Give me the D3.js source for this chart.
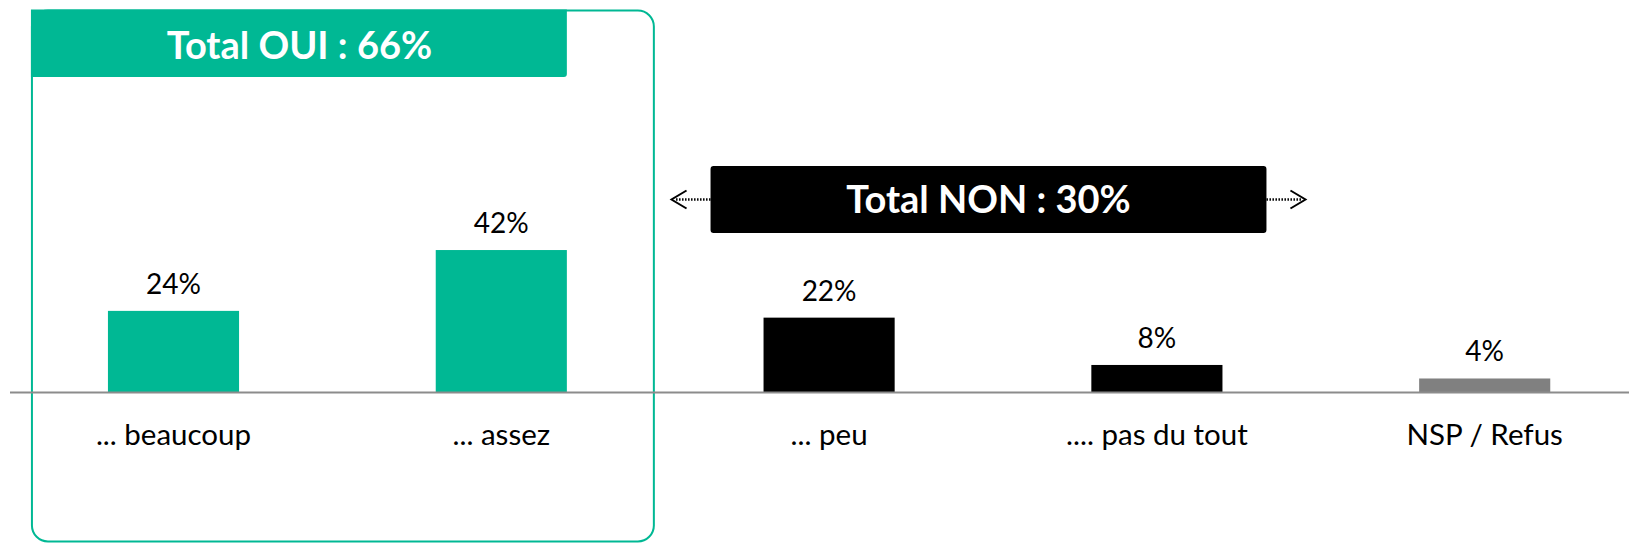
<!DOCTYPE html>
<html>
<head>
<meta charset="utf-8">
<script src="https://cdn.jsdelivr.net/npm/d3@7"></script>
<style>
  body { margin: 0; background: #fff; }
  svg { display: block; font-family: Lato, "Open Sans", sans-serif; }
</style>
</head>
<body>
<div id="container"></div>
<script>
// data
var categories = ["... beaucoup", "... assez", "... peu", ".... pas du tout", "NSP / Refus"];
var values = [24, 42, 22, 8, 4];
var barColors = ["#00B894", "#00B894", "#000000", "#000000", "#808080"];
var totalOui = "Total OUI : 66%";
var totalNon = "Total NON : 30%";

var width = 1629, height = 543;
var green = "#00B894";

var svg = d3.select("#container")
    .append("svg")
    .attr("width", width)
    .attr("height", height);

var x = d3.scaleBand()
    .domain(categories)
    .range([9.6, 1648.6])
    .paddingInner(0.6)
    .paddingOuter(0.3);

var y = d3.scaleLinear()
    .domain([0, 100])
    .range([392, 54]);

// OUI frame
var ouiLeft = x(categories[0]) - 76,
    ouiRight = x(categories[1]) + x.bandwidth() + 87;

svg.append("rect")
    .attr("x", ouiLeft)
    .attr("y", 10.5)
    .attr("width", ouiRight - ouiLeft)
    .attr("height", 531)
    .attr("rx", 16)
    .attr("fill", "none")
    .attr("stroke", green)
    .attr("stroke-width", 2);

var headRight = x(categories[1]) + x.bandwidth();
svg.append("path")
    .attr("d", "M" + (ouiLeft - 1) + "," + 9.5
        + "H" + headRight
        + "V" + 74 + "q0,3 -3,3"
        + "H" + (ouiLeft - 1) + "Z")
    .attr("fill", green);

svg.append("text")
    .attr("x", (ouiLeft + headRight) / 2)
    .attr("y", 45)
    .attr("dy", "0.36em")
    .attr("text-anchor", "middle")
    .attr("fill", "#fff")
    .style("font-size", "38px")
    .style("font-weight", "bold")
    .text(totalOui);

// NON box with arrows
var nonLeft = x(categories[2]) - 53,
    nonRight = x(categories[3]) + x.bandwidth() + 44;

svg.append("rect")
    .attr("x", nonLeft)
    .attr("y", 166)
    .attr("width", nonRight - nonLeft)
    .attr("height", 67)
    .attr("rx", 3)
    .attr("fill", "#000");

svg.append("text")
    .attr("x", (nonLeft + nonRight) / 2)
    .attr("y", 199.5)
    .attr("dy", "0.36em")
    .attr("text-anchor", "middle")
    .attr("fill", "#fff")
    .style("font-size", "38px")
    .style("font-weight", "bold")
    .text(totalNon);

var ay = 199.5;
[[nonLeft, nonLeft - 39], [nonRight, nonRight + 39]].forEach(function(a) {
    var dir = a[1] < a[0] ? -1 : 1;
    svg.append("line")
        .attr("x1", a[0]).attr("x2", a[1] - dir * 3)
        .attr("y1", ay).attr("y2", ay)
        .attr("stroke", "#000")
        .attr("stroke-width", 2.5)
        .attr("stroke-dasharray", "1.5,1.5");
    svg.append("path")
        .attr("d", "M" + (a[1] - dir * 15) + "," + (ay - 9)
            + "L" + a[1] + "," + ay
            + "L" + (a[1] - dir * 15) + "," + (ay + 9))
        .attr("fill", "none")
        .attr("stroke", "#000")
        .attr("stroke-width", 2);
});

// bars
svg.selectAll(".bar")
    .data(values)
    .enter()
    .append("rect")
    .attr("class", "bar")
    .attr("x", function(d, i) { return x(categories[i]); })
    .attr("y", function(d) { return y(d); })
    .attr("width", x.bandwidth())
    .attr("height", function(d) { return y(0) - y(d); })
    .attr("fill", function(d, i) { return barColors[i]; });

// value labels
svg.selectAll(".val")
    .data(values)
    .enter()
    .append("text")
    .attr("class", "val")
    .attr("x", function(d, i) { return x(categories[i]) + x.bandwidth() / 2; })
    .attr("y", function(d) { return y(d) - 17; })
    .attr("text-anchor", "middle")
    .style("font-size", "28px")
    .text(function(d) { return d + "%"; });

// baseline
svg.append("line")
    .attr("x1", 10).attr("x2", width)
    .attr("y1", y(0) + 0.5).attr("y2", y(0) + 0.5)
    .attr("stroke", "#8c8c8c")
    .attr("stroke-width", 2);

// category labels
svg.selectAll(".cat")
    .data(categories)
    .enter()
    .append("text")
    .attr("class", "cat")
    .attr("x", function(d) { return x(d) + x.bandwidth() / 2; })
    .attr("y", y(0) + 53)
    .attr("text-anchor", "middle")
    .style("font-size", "29.5px")
    .text(function(d) { return d; });
</script>
</body>
</html>
